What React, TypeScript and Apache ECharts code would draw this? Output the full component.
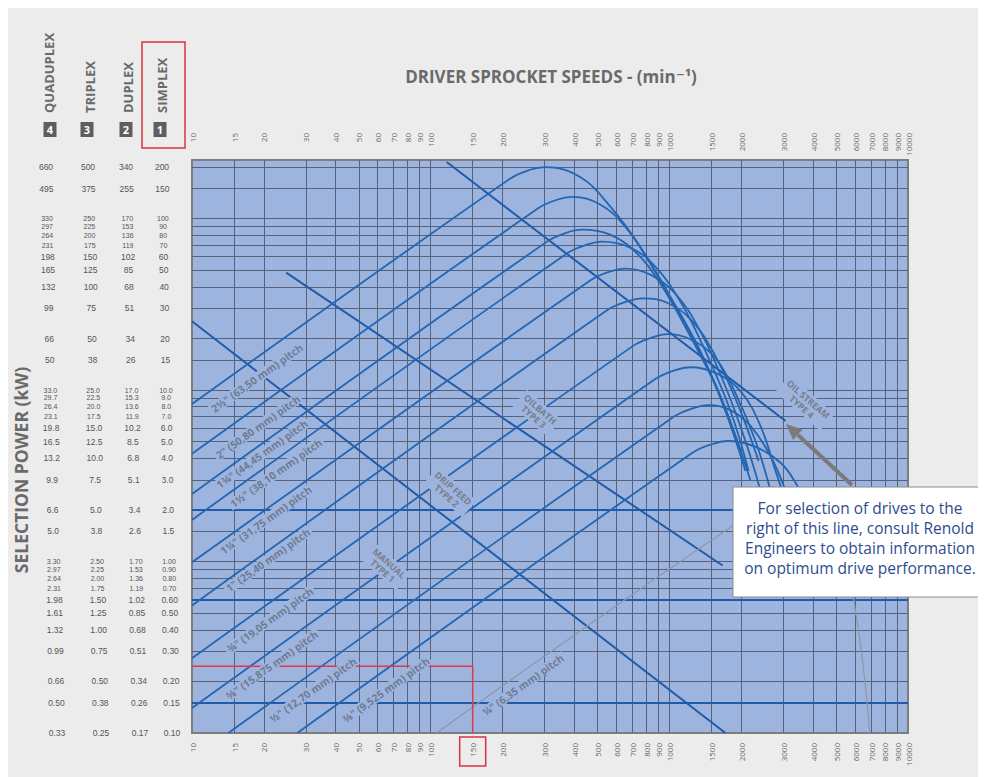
import React, { useEffect, useRef } from "react";
import * as echarts from "echarts";

// ---------------- axis ticks ----------------
const speedMin = 10;
const speedMax = 10000;
const kwMin = 0.1;
const kwMax = 220;

const speedTicks = [10, 15, 20, 30, 40, 50, 60, 70, 80, 90, 100, 150, 200, 300, 400, 500, 600, 700, 800, 900, 1000, 1500, 2000, 3000, 4000, 5000, 6000, 7000, 8000, 9000, 10000];
const speedTickLabels = ["10", "15", "20", "30", "40", "50", "60", "70", "80", "90", "100", "150", "200", "300", "400", "500", "600", "700", "800", "900", "1000", "1500", "2000", "3000", "4000", "5000", "6000", "7000", "8000", "9000", "10000"];

const simplexKw = [200, 150, 100, 90, 80, 70, 60, 50, 40, 30, 20, 15, 10, 9, 8, 7, 6, 5, 4, 3, 2, 1.5, 1, 0.9, 0.8, 0.7, 0.6, 0.5, 0.4, 0.3, 0.2, 0.15, 0.1];
const simplexLabels = ["200", "150", "100", "90", "80", "70", "60", "50", "40", "30", "20", "15", "10.0", "9.0", "8.0", "7.0", "6.0", "5.0", "4.0", "3.0", "2.0", "1.5", "1.00", "0.90", "0.80", "0.70", "0.60", "0.50", "0.40", "0.30", "0.20", "0.15", "0.10"];
const duplexLabels = ["340", "255", "170", "153", "136", "119", "102", "85", "68", "51", "34", "26", "17.0", "15.3", "13.6", "11.9", "10.2", "8.5", "6.8", "5.1", "3.4", "2.6", "1.70", "1.53", "1.36", "1.19", "1.02", "0.85", "0.68", "0.51", "0.34", "0.26", "0.17"];
const triplexLabels = ["500", "375", "250", "225", "200", "175", "150", "125", "100", "75", "50", "38", "25.0", "22.5", "20.0", "17.5", "15.0", "12.5", "10.0", "7.5", "5.0", "3.8", "2.50", "2.25", "2.00", "1.75", "1.50", "1.25", "1.00", "0.75", "0.50", "0.38", "0.25"];
const quadruplexLabels = ["660", "495", "330", "297", "264", "231", "198", "165", "132", "99", "66", "50", "33.0", "29.7", "26.4", "23.1", "19.8", "16.5", "13.2", "9.9", "6.6", "5.0", "3.30", "2.97", "2.64", "2.31", "1.98", "1.61", "1.32", "0.99", "0.66", "0.50", "0.33"];

// ---------------- chain rating curves [rpm, kW simplex] ----------------
const chain250 = [[10, 8.29], [215, 171], [261, 193], [301, 200], [423, 175], [565, 118], [755, 68.7], [1009, 35.2], [1349, 16.9], [1718, 7.55], [2084, 3.38]];
const chain200 = [[10, 4.25], [279, 114], [338, 129], [391, 134], [513, 121], [653, 89.8], [832, 54.7], [1112, 26.9], [1486, 12.6], [1892, 5.41], [2188, 2.96]];
const chain175 = [[10, 2.48], [307, 73.5], [372, 83], [431, 86.3], [565, 80.7], [719, 64.3], [916, 41.9], [1225, 20.6], [1636, 9.23], [1986, 4.42]];
const chain150 = [[10, 1.75], [372, 62.7], [452, 70.6], [523, 73.5], [686, 67.8], [873, 52.6], [1112, 32.9], [1416, 16.9], [1804, 7.55], [2148, 3.38]];
const chain125 = [[10, 0.99], [466, 43.6], [565, 49.2], [653, 51.2], [832, 47.2], [1059, 36.6], [1349, 22], [1718, 10.5], [2084, 5.05], [2410, 2.59]];
const chain100 = [[10, 0.555], [548, 29.2], [666, 32.9], [771, 34.3], [991, 32.1], [1250, 25.2], [1560, 15.8], [1950, 8.07], [2366, 3.86]];
const chain075 = [[10, 0.273], [700, 18], [849, 20.3], [981, 21.2], [1225, 19.8], [1560, 15.4], [1892, 9.62], [2296, 5.05], [2655, 2.59]];
const chain0625 = [[10, 0.14], [873, 11.6], [1059, 13.1], [1225, 13.6], [1560, 12.6], [1986, 9.86], [2410, 6.18], [2786, 3.38], [3069, 2.26]];
const chain050 = [[14.2, 0.1], [1040, 6.97], [1262, 7.85], [1459, 8.18], [1804, 7.65], [2188, 6.18], [2655, 4.13], [3069, 2.59]];
const chain0375 = [[27.6, 0.1], [1250, 4.31], [1517, 4.85], [1754, 5.05], [2296, 4.67], [2924, 3.77], [3381, 2.88], [3724, 2.12]];
const chain025 = [[106, 0.1], [2296, 1.98], [3221, 2.32], [4519, 1.85], [5483, 1.01], [6109, 0.454], [6592, 0.203], [6918, 0.1]];

// ---------------- lubrication boundaries [rpm, kW] ----------------
const lubManualLimit = [[10, 25.2], [1718, 0.1]];
const lubDripLimit = [[24.8, 48.5], [1671, 0.948]];
const lubBathLimit = [[116.7, 214], [3069, 6.6]];

// reference (thick) power lines and worked example
const referenceKw = [2.0, 0.6, 0.15];
const exampleRpm = 150;
const exampleKw = 0.245;

// ---------------- texts ----------------
const pitchLabels = [
  "2½\" (63,50 mm) pitch",
  "2\" (50,80 mm) pitch",
  "1¾\" (44,45 mm) pitch",
  "1½\" (38,10 mm) pitch",
  "1¼\" (31,75 mm) pitch",
  "1\" (25,40 mm) pitch",
  "¾\" (19,05 mm) pitch",
  "⅝\" (15,875 mm) pitch",
  "½\" (12,70 mm) pitch",
  "⅜\" (9,525 mm) pitch",
  "¼\" (6,35 mm) pitch",
];
const lubLabels = ["MANUAL\nTYPE 1", "DRIP FEED\nTYPE 2", "OILBATH\nTYPE 3", "OIL STREAM\nTYPE 4"];
const strandHeaders = ["QUADUPLEX", "TRIPLEX", "DUPLEX", "SIMPLEX"];
const strandNumbers = ["4", "3", "2", "1"];
const noteLines = [
  "For selection of drives to the",
  "right of this line, consult Renold",
  "Engineers to obtain information",
  "on optimum drive performance.",
];
const titleText = "DRIVER SPROCKET SPEEDS - (min⁻¹)";
const yTitleText = "SELECTION POWER (kW)";

// ---------------- layout (pixels, not data) ----------------
const pitchLabelPos = [[249, 370], [250, 419], [254, 446], [268, 465], [258, 512], [260, 552], [262, 612], [264, 657], [305, 682], [378, 682], [515, 677]];
const lubLabelPos = [[378, 559], [442, 484], [529, 405], [797, 395]];
const headerX = [41, 82, 120, 154];
const badgeX = [42, 79, 118, 152];
const colTopX = [38, 80, 118, 154];
const colBotX = [49, 93, 132, 164];

const FONT = '"Open Sans", "DejaVu Sans", sans-serif';
const NUM_FONT = '"Liberation Sans", Arial, sans-serif';
const PLOT_BG = "#9db4df";

function txt(x: number, y: number, t: string, font: string, fill: string, o: any = {}) {
  const align = o.align || "center";
  const va = o.va || "middle";
  const style: any = {
    text: t,
    font: `${font} ${o.family || FONT}`,
    fill,
    align,
    verticalAlign: va,
    textAlign: align,
    textVerticalAlign: va,
  };
  if (o.bg) {
    style.backgroundColor = o.bg;
    style.padding = o.pad || [0, 2];
  }
  if (o.lh) style.lineHeight = o.lh;
  return { type: "text", x, y, rotation: o.rot || 0, z: o.z || 100, silent: true, style };
}

export default function App() {
  const ref = useRef<HTMLDivElement>(null);

  useEffect(() => {
    if (!ref.current) return;
    const chart = echarts.init(ref.current, null, { renderer: "svg" });

    const chains = [chain250, chain200, chain175, chain150, chain125, chain100, chain075, chain0625, chain050, chain0375, chain025];

    const gridLines = [
      ...speedTicks.filter((v) => v > speedMin && v < speedMax).map((v) => ({ coords: [[v, kwMin], [v, kwMax]] })),
      ...simplexKw.filter((v) => v > kwMin).map((v) => ({ coords: [[speedMin, v], [speedMax, v]] })),
    ];

    const option: any = {
      animation: false,
      backgroundColor: "#ececec",
      grid: {
        left: 184,
        top: 152,
        width: 716,
        height: 573,
        show: true,
        backgroundColor: PLOT_BG,
        borderColor: "#7e7e7e",
        borderWidth: 2,
        outerBoundsMode: "none",
      },
      xAxis: { type: "log", logBase: 10, min: speedMin, max: speedMax, show: false },
      yAxis: { type: "log", logBase: 10, min: kwMin, max: kwMax, show: false },
      series: [
        {
          type: "lines",
          coordinateSystem: "cartesian2d",
          silent: true,
          z: 1,
          lineStyle: { color: "#56627b", width: 1, opacity: 1 },
          data: gridLines,
        },
        {
          type: "lines",
          coordinateSystem: "cartesian2d",
          silent: true,
          z: 2,
          lineStyle: { color: "#1f5ba8", width: 2.2, opacity: 1 },
          data: referenceKw.map((v) => ({ coords: [[speedMin, v], [speedMax, v]] })),
        },
        ...[lubManualLimit, lubDripLimit, lubBathLimit].map((d) => ({
          type: "line",
          data: d,
          symbol: "none",
          silent: true,
          z: 3,
          lineStyle: { color: "#1f5ba8", width: 2 },
        })),
        ...chains.map((d, i) => ({
          type: "line",
          name: pitchLabels[i],
          data: d,
          smooth: 0.4,
          symbol: "none",
          silent: true,
          z: 4,
          lineStyle: { color: i === 10 ? "#8d97a9" : "#2466b2", width: i === 10 ? 1.2 : 1.8 },
        })),
        {
          type: "line",
          data: [[speedMin, exampleKw], [exampleRpm, exampleKw], [exampleRpm, kwMin]],
          symbol: "none",
          silent: true,
          z: 5,
          lineStyle: { color: "#e2364a", width: 1.5 },
        },
      ],
    };

    chart.setOption(option);

    const gx = (v: number) => chart.convertToPixel({ xAxisIndex: 0 }, v) as unknown as number;
    const gy = (v: number) => chart.convertToPixel({ yAxisIndex: 0 }, v) as unknown as number;

    const els: any[] = [];

    // speed tick labels, top and bottom
    speedTicks.forEach((v, i) => {
      const x = gx(v);
      els.push(txt(x, 125, speedTickLabels[i], "8px", "#666", { align: "right", rot: Math.PI / 2 }));
      els.push(txt(x, 735, speedTickLabels[i], "8px", "#666", { align: "right", rot: Math.PI / 2 }));
    });

    // power columns (rows in tight clusters use one smaller size)
    const columns = [quadruplexLabels, triplexLabels, duplexLabels, simplexLabels];
    const rowY = simplexKw.map((kw) => gy(kw));
    const yTop = rowY[0];
    const yBot = rowY[rowY.length - 1];
    const gaps = rowY.slice(1).map((y, i) => y - rowY[i]);
    const minGap = Math.min(...gaps);
    rowY.forEach((y, i) => {
      const gapUp = i > 0 ? gaps[i - 1] : 99;
      const gapDown = i < gaps.length ? gaps[i] : 99;
      const crowded = Math.min(gapUp, gapDown) < 10.5;
      const fs = crowded ? minGap / 1.12 : 8.5;
      const t = (y - yTop) / (yBot - yTop);
      columns.forEach((col, c) => {
        els.push(txt(colTopX[c] + (colBotX[c] - colTopX[c]) * t, y, col[i], `${fs.toFixed(2)}px`, "#555", { family: NUM_FONT }));
      });
    });

    // strand headers and badges
    strandHeaders.forEach((h, i) => {
      els.push(txt(headerX[i], 105, h, "bold 13px", "#6a6a6a", { align: "left", rot: Math.PI / 2 }));
      els.push({ type: "rect", z: 100, silent: true, shape: { x: badgeX[i] - 6.5, y: 114, width: 13, height: 15 }, style: { fill: "#5e5e5e" } });
      els.push(txt(badgeX[i], 121.5, strandNumbers[i], "bold 11px", "#ffffff", { z: 101 }));
    });
    els.push({ type: "rect", z: 101, silent: true, shape: { x: 134, y: 34, width: 43, height: 106 }, style: { fill: "none", stroke: "#d8353f", lineWidth: 1.5 } });

    // titles
    els.push(txt(543, 68, titleText, "bold 17px", "#6a6a6a"));
    els.push(txt(13, 462, yTitleText, "bold 17.5px", "#6a6a6a", { rot: Math.PI / 2 }));

    // pitch labels
    pitchLabels.forEach((p, i) => {
      els.push(txt(pitchLabelPos[i][0], pitchLabelPos[i][1], p, "bold 10.5px", "#707b91", { rot: 0.62, bg: PLOT_BG, lh: 11 }));
    });
    // lubrication labels
    lubLabels.forEach((l, i) => {
      els.push(txt(lubLabelPos[i][0], lubLabelPos[i][1], l, "bold 9px", "#787e8a", { rot: -0.72, bg: PLOT_BG, lh: 10, pad: [1, 3] }));
    });

    // red frame around example speed
    const x150 = gx(exampleRpm);
    els.push({ type: "rect", z: 101, silent: true, shape: { x: x150 - 13, y: 729, width: 26, height: 29 }, style: { fill: "none", stroke: "#d8353f", lineWidth: 1.5 } });

    // arrow
    els.push({ type: "line", z: 102, silent: true, shape: { x1: 844, y1: 477, x2: 790, y2: 427 }, style: { stroke: "#7a7a7a", lineWidth: 4 } });
    els.push({ type: "polygon", z: 102, silent: true, shape: { points: [[778, 416], [794.5, 421.6], [785.1, 432]] }, style: { fill: "#7a7a7a" } });

    // note box
    els.push({ type: "rect", z: 103, silent: true, shape: { x: 725, y: 479, width: 252, height: 110 }, style: { fill: "#ffffff", stroke: "#8a8a8a", lineWidth: 1 } });
    noteLines.forEach((l, i) => {
      els.push(txt(852, 500 + i * 20, l, "15.5px", "#2e4c8e", { z: 104 }));
    });

    chart.setOption({ graphic: { elements: els } });

    return () => chart.dispose();
  }, []);

  return <div ref={ref} style={{ width: 978, height: 769 }} />;
}
